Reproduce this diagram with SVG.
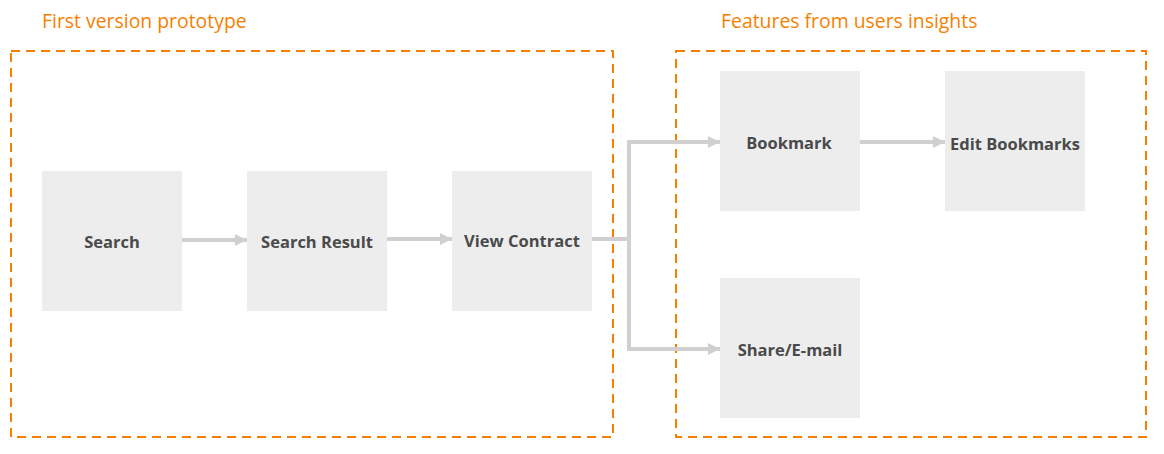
<svg xmlns="http://www.w3.org/2000/svg" width="1164" height="454" viewBox="0 0 1164 454">
<defs>
<style>
.grp{fill:none;stroke:#f77f00;stroke-width:2;stroke-dasharray:9 6}
.title{font-family:"Open Sans","Liberation Sans",sans-serif;font-size:19.4px;fill:#f77f00}
.box{fill:#ededed}
.lbl{font-family:"Open Sans","Liberation Sans",sans-serif;font-size:16.5px;font-weight:bold;fill:#4a4a4a;text-anchor:middle;dominant-baseline:central}
.conn{fill:none;stroke:#d0d0d0;stroke-width:4}
</style>
<marker id="arr" viewBox="0 0 10 10" refX="10" refY="5" markerWidth="3" markerHeight="3.2" orient="auto" markerUnits="strokeWidth">
<path d="M0,0 L10,5 L0,10 z" fill="#d0d0d0"/>
</marker>
</defs>
<rect width="1164" height="454" fill="#ffffff"/>
<g id="group-prototype">
<rect class="grp" x="11" y="51" width="602" height="386"/>
<text class="title" x="42" y="28">First version prototype</text>
</g>
<g id="group-features">
<rect class="grp" x="676" y="51" width="470" height="386"/>
<text class="title" x="721" y="28">Features from users insights</text>
</g>
<g id="connectors">
<path class="conn" d="M182,240 H247" marker-end="url(#arr)"/>
<path class="conn" d="M387,239 H452" marker-end="url(#arr)"/>
<path class="conn" d="M592,239 H629 V142 H720" marker-end="url(#arr)"/>
<path class="conn" d="M629,239 V349 H720" marker-end="url(#arr)"/>
<path class="conn" d="M860,142 H945" marker-end="url(#arr)"/>
</g>
<g id="search"><rect class="box" x="42" y="171" width="140" height="140"/><text class="lbl" x="112" y="241">Search</text></g>
<g id="search-result"><rect class="box" x="247" y="171" width="140" height="140"/><text class="lbl" x="317" y="241">Search Result</text></g>
<g id="view-contract"><rect class="box" x="452" y="171" width="140" height="140"/><text class="lbl" x="522" y="240">View Contract</text></g>
<g id="bookmark"><rect class="box" x="720" y="71" width="140" height="140"/><text class="lbl" x="789" y="142">Bookmark</text></g>
<g id="edit-bookmarks"><rect class="box" x="945" y="71" width="140" height="140"/><text class="lbl" x="1015" y="143">Edit Bookmarks</text></g>
<g id="share-email"><rect class="box" x="720" y="278" width="140" height="140"/><text class="lbl" x="790" y="349">Share/E-mail</text></g>
</svg>
